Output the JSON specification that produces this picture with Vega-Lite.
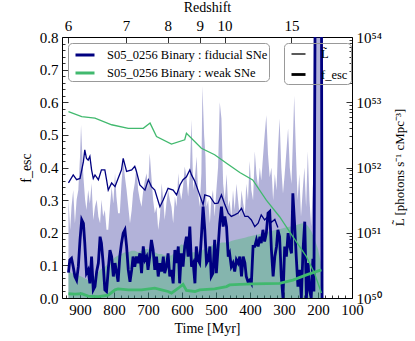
{
"$schema": "https://vega.github.io/schema/vega-lite/v6.json",
"width": 290, "height": 261,
"autosize": {"type": "none"},
"padding": {"left": 62, "top": 37, "right": 63, "bottom": 43},
"background": "white",
"config": {
 "font": "Liberation Serif",
 "view": {"stroke": null},
 "axis": {"domain": true, "domainColor": "black", "domainWidth": 1, "grid": false, "tickColor": "black", "labelColor": "black", "titleColor": "black", "labelFontSize": 15, "titleFontSize": 14, "titleFontWeight": "normal", "labelFont": "Liberation Serif", "titleFont": "Liberation Serif", "tickWidth": 0.8, "labelFlush": false, "labelOverlap": false, "zindex": 1}
},
"datasets": {
 "fill_fid": [
  {"t":934,"f":0.301},{"t":929,"f":0.209},{"t":925,"f":0.28},{"t":920,"f":0.331},{"t":915,"f":0.229},{"t":910,"f":0.301},{"t":905,"f":0.331},{"t":900,"f":0.434},{"t":897,"f":0.53},{"t":893,"f":0.434},{"t":890,"f":0.372},{"t":885,"f":0.301},{"t":881,"f":0.27},{"t":876,"f":0.331},{"t":871,"f":0.29},{"t":866,"f":0.352},{"t":861,"f":0.239},{"t":856,"f":0.28},{"t":851,"f":0.301},{"t":846,"f":0.25},{"t":841,"f":0.229},{"t":837,"f":0.301},{"t":832,"f":0.25},{"t":827,"f":0.27},{"t":822,"f":0.209},{"t":817,"f":0.209},{"t":812,"f":0.28},{"t":807,"f":0.341},{"t":802,"f":0.29},{"t":797,"f":0.382},{"t":793,"f":0.311},{"t":788,"f":0.26},{"t":783,"f":0.26},{"t":778,"f":0.352},{"t":773,"f":0.423},{"t":768,"f":0.372},{"t":763,"f":0.331},{"t":758,"f":0.28},{"t":753,"f":0.229},{"t":748,"f":0.27},{"t":744,"f":0.321},{"t":739,"f":0.352},{"t":734,"f":0.403},{"t":729,"f":0.331},{"t":724,"f":0.301},{"t":719,"f":0.28},{"t":714,"f":0.331},{"t":709,"f":0.362},{"t":704,"f":0.382},{"t":700,"f":0.331},{"t":695,"f":0.444},{"t":690,"f":0.372},{"t":685,"f":0.301},{"t":680,"f":0.26},{"t":675,"f":0.28},{"t":670,"f":0.209},{"t":665,"f":0.25},{"t":660,"f":0.352},{"t":655,"f":0.301},{"t":651,"f":0.239},{"t":646,"f":0.29},{"t":641,"f":0.331},{"t":636,"f":0.301},{"t":631,"f":0.28},{"t":626,"f":0.229},{"t":621,"f":0.311},{"t":616,"f":0.28},{"t":611,"f":0.382},{"t":607,"f":0.331},{"t":602,"f":0.301},{"t":597,"f":0.341},{"t":592,"f":0.403},{"t":587,"f":0.372},{"t":582,"f":0.311},{"t":577,"f":0.382},{"t":572,"f":0.546},{"t":567,"f":0.331},{"t":562,"f":0.372},{"t":557,"f":0.434},{"t":553,"f":0.331},{"t":548,"f":0.28},{"t":543,"f":0.382},{"t":540,"f":0.65},{"t":535,"f":0.5},{"t":531,"f":0.434},{"t":528,"f":0.28},{"t":523,"f":0.301},{"t":518,"f":0.229},{"t":514,"f":0.301},{"t":509,"f":0.331},{"t":504,"f":0.25},{"t":499,"f":0.33},{"t":494,"f":0.4},{"t":489,"f":0.6},{"t":484,"f":0.55},{"t":479,"f":0.35},{"t":474,"f":0.3},{"t":469,"f":0.38},{"t":464,"f":0.28},{"t":460,"f":0.3},{"t":455,"f":0.25},{"t":450,"f":0.33},{"t":445,"f":0.27},{"t":440,"f":0.35},{"t":435,"f":0.3},{"t":430,"f":0.25},{"t":425,"f":0.33},{"t":420,"f":0.29},{"t":415,"f":0.26},{"t":411,"f":0.35},{"t":406,"f":0.3},{"t":401,"f":0.42},{"t":396,"f":0.33},{"t":391,"f":0.3},{"t":386,"f":0.45},{"t":381,"f":0.38},{"t":376,"f":0.34},{"t":371,"f":0.4},{"t":367,"f":0.36},{"t":362,"f":0.43},{"t":357,"f":0.5},{"t":352,"f":0.56},{"t":347,"f":0.44},{"t":342,"f":0.37},{"t":337,"f":0.4},{"t":332,"f":0.3},{"t":327,"f":0.38},{"t":322,"f":0.33},{"t":318,"f":0.45},{"t":313,"f":0.55},{"t":308,"f":0.4},{"t":303,"f":0.32},{"t":298,"f":0.38},{"t":293,"f":0.45},{"t":288,"f":0.52},{"t":283,"f":0.4},{"t":278,"f":0.35},{"t":274,"f":0.48},{"t":270,"f":0.62},{"t":265,"f":0.45},{"t":260,"f":0.3},{"t":255,"f":0.38},{"t":250,"f":0.25},{"t":245,"f":0.33},{"t":240,"f":0.4},{"t":235,"f":0.28},{"t":230,"f":0.45},{"t":225,"f":0.3},{"t":220,"f":0.22},{"t":215,"f":0.35},{"t":211,"f":0.15},{"t":207,"f":1.0},{"t":191,"f":1.0},{"t":189,"f":0.0}
 ],
 "fill_weak": [
  {"t":934,"f":0.09},{"t":925,"f":0.075},{"t":915,"f":0.08},{"t":905,"f":0.07},{"t":895,"f":0.065},{"t":885,"f":0.06},{"t":876,"f":0.055},{"t":866,"f":0.07},{"t":856,"f":0.065},{"t":846,"f":0.08},{"t":837,"f":0.09},{"t":827,"f":0.095},{"t":817,"f":0.105},{"t":807,"f":0.115},{"t":797,"f":0.125},{"t":788,"f":0.13},{"t":778,"f":0.135},{"t":768,"f":0.14},{"t":758,"f":0.14},{"t":748,"f":0.145},{"t":739,"f":0.145},{"t":729,"f":0.14},{"t":719,"f":0.145},{"t":709,"f":0.15},{"t":700,"f":0.15},{"t":690,"f":0.14},{"t":680,"f":0.14},{"t":670,"f":0.135},{"t":660,"f":0.135},{"t":651,"f":0.13},{"t":641,"f":0.13},{"t":631,"f":0.13},{"t":621,"f":0.14},{"t":611,"f":0.155},{"t":602,"f":0.165},{"t":592,"f":0.16},{"t":582,"f":0.15},{"t":572,"f":0.14},{"t":562,"f":0.14},{"t":553,"f":0.14},{"t":543,"f":0.145},{"t":533,"f":0.15},{"t":523,"f":0.155},{"t":514,"f":0.16},{"t":504,"f":0.165},{"t":494,"f":0.165},{"t":484,"f":0.17},{"t":474,"f":0.17},{"t":464,"f":0.17},{"t":455,"f":0.175},{"t":445,"f":0.178},{"t":435,"f":0.18},{"t":425,"f":0.182},{"t":415,"f":0.185},{"t":406,"f":0.188},{"t":396,"f":0.19},{"t":386,"f":0.192},{"t":376,"f":0.195},{"t":367,"f":0.198},{"t":357,"f":0.2},{"t":347,"f":0.203},{"t":337,"f":0.205},{"t":327,"f":0.208},{"t":318,"f":0.21},{"t":308,"f":0.212},{"t":298,"f":0.215},{"t":288,"f":0.218},{"t":278,"f":0.22},{"t":268,"f":0.222},{"t":259,"f":0.225},{"t":249,"f":0.228},{"t":239,"f":0.23},{"t":229,"f":0.22},{"t":220,"f":0.205},{"t":210,"f":0.18},{"t":200,"f":0.15},{"t":192,"f":0.11},{"t":187,"f":0.05},{"t":185,"f":0.0}
 ],
 "fesc": [
  {"run":"fiducial","qty":"fesc","t":934,"f":0.078},{"run":"fiducial","qty":"fesc","t":930,"f":0.117},{"run":"fiducial","qty":"fesc","t":925,"f":0.122},{"run":"fiducial","qty":"fesc","t":920,"f":0.096},{"run":"fiducial","qty":"fesc","t":915,"f":0.066},{"run":"fiducial","qty":"fesc","t":910,"f":0.055},{"run":"fiducial","qty":"fesc","t":905,"f":0.096},{"run":"fiducial","qty":"fesc","t":900,"f":0.178},{"run":"fiducial","qty":"fesc","t":895,"f":0.24},{"run":"fiducial","qty":"fesc","t":890,"f":0.229},{"run":"fiducial","qty":"fesc","t":886,"f":0.168},{"run":"fiducial","qty":"fesc","t":881,"f":0.076},{"run":"fiducial","qty":"fesc","t":876,"f":0.086},{"run":"fiducial","qty":"fesc","t":871,"f":0.045},{"run":"fiducial","qty":"fesc","t":866,"f":0.127},{"run":"fiducial","qty":"fesc","t":861,"f":0.025},{"run":"fiducial","qty":"fesc","t":856,"f":0.035},{"run":"fiducial","qty":"fesc","t":851,"f":0.081},{"run":"fiducial","qty":"fesc","t":846,"f":0.107},{"run":"fiducial","qty":"fesc","t":841,"f":0.188},{"run":"fiducial","qty":"fesc","t":837,"f":0.168},{"run":"fiducial","qty":"fesc","t":832,"f":0.107},{"run":"fiducial","qty":"fesc","t":827,"f":0.025},{"run":"fiducial","qty":"fesc","t":822,"f":0.02},{"run":"fiducial","qty":"fesc","t":817,"f":0.086},{"run":"fiducial","qty":"fesc","t":812,"f":0.147},{"run":"fiducial","qty":"fesc","t":807,"f":0.127},{"run":"fiducial","qty":"fesc","t":802,"f":0.066},{"run":"fiducial","qty":"fesc","t":797,"f":0.107},{"run":"fiducial","qty":"fesc","t":793,"f":0.081},{"run":"fiducial","qty":"fesc","t":788,"f":0.05},{"run":"fiducial","qty":"fesc","t":783,"f":0.127},{"run":"fiducial","qty":"fesc","t":778,"f":0.168},{"run":"fiducial","qty":"fesc","t":773,"f":0.199},{"run":"fiducial","qty":"fesc","t":768,"f":0.209},{"run":"fiducial","qty":"fesc","t":763,"f":0.158},{"run":"fiducial","qty":"fesc","t":758,"f":0.086},{"run":"fiducial","qty":"fesc","t":753,"f":0.05},{"run":"fiducial","qty":"fesc","t":748,"f":0.086},{"run":"fiducial","qty":"fesc","t":744,"f":0.127},{"run":"fiducial","qty":"fesc","t":739,"f":0.096},{"run":"fiducial","qty":"fesc","t":734,"f":0.127},{"run":"fiducial","qty":"fesc","t":729,"f":0.107},{"run":"fiducial","qty":"fesc","t":724,"f":0.137},{"run":"fiducial","qty":"fesc","t":719,"f":0.076},{"run":"fiducial","qty":"fesc","t":714,"f":0.158},{"run":"fiducial","qty":"fesc","t":709,"f":0.117},{"run":"fiducial","qty":"fesc","t":704,"f":0.127},{"run":"fiducial","qty":"fesc","t":700,"f":0.086},{"run":"fiducial","qty":"fesc","t":695,"f":0.127},{"run":"fiducial","qty":"fesc","t":690,"f":0.178},{"run":"fiducial","qty":"fesc","t":685,"f":0.147},{"run":"fiducial","qty":"fesc","t":680,"f":0.086},{"run":"fiducial","qty":"fesc","t":675,"f":0.127},{"run":"fiducial","qty":"fesc","t":670,"f":0.066},{"run":"fiducial","qty":"fesc","t":665,"f":0.107},{"run":"fiducial","qty":"fesc","t":660,"f":0.081},{"run":"fiducial","qty":"fesc","t":655,"f":0.127},{"run":"fiducial","qty":"fesc","t":651,"f":0.076},{"run":"fiducial","qty":"fesc","t":646,"f":0.096},{"run":"fiducial","qty":"fesc","t":641,"f":0.137},{"run":"fiducial","qty":"fesc","t":636,"f":0.066},{"run":"fiducial","qty":"fesc","t":631,"f":0.086},{"run":"fiducial","qty":"fesc","t":626,"f":0.045},{"run":"fiducial","qty":"fesc","t":621,"f":0.147},{"run":"fiducial","qty":"fesc","t":616,"f":0.107},{"run":"fiducial","qty":"fesc","t":611,"f":0.158},{"run":"fiducial","qty":"fesc","t":607,"f":0.045},{"run":"fiducial","qty":"fesc","t":602,"f":0.137},{"run":"fiducial","qty":"fesc","t":597,"f":0.096},{"run":"fiducial","qty":"fesc","t":592,"f":0.158},{"run":"fiducial","qty":"fesc","t":587,"f":0.188},{"run":"fiducial","qty":"fesc","t":582,"f":0.127},{"run":"fiducial","qty":"fesc","t":577,"f":0.219},{"run":"fiducial","qty":"fesc","t":572,"f":0.096},{"run":"fiducial","qty":"fesc","t":567,"f":0.107},{"run":"fiducial","qty":"fesc","t":562,"f":0.045},{"run":"fiducial","qty":"fesc","t":558,"f":0.158},{"run":"fiducial","qty":"fesc","t":553,"f":0.117},{"run":"fiducial","qty":"fesc","t":548,"f":0.107},{"run":"fiducial","qty":"fesc","t":543,"f":0.188},{"run":"fiducial","qty":"fesc","t":538,"f":0.28},{"run":"fiducial","qty":"fesc","t":533,"f":0.209},{"run":"fiducial","qty":"fesc","t":528,"f":0.107},{"run":"fiducial","qty":"fesc","t":523,"f":0.117},{"run":"fiducial","qty":"fesc","t":518,"f":0.158},{"run":"fiducial","qty":"fesc","t":514,"f":0.066},{"run":"fiducial","qty":"fesc","t":509,"f":0.076},{"run":"fiducial","qty":"fesc","t":504,"f":0.178},{"run":"fiducial","qty":"fesc","t":499,"f":0.076},{"run":"fiducial","qty":"fesc","t":494,"f":0.152},{"run":"fiducial","qty":"fesc","t":489,"f":0.229},{"run":"fiducial","qty":"fesc","t":484,"f":0.28},{"run":"fiducial","qty":"fesc","t":479,"f":0.219},{"run":"fiducial","qty":"fesc","t":474,"f":0.25},{"run":"fiducial","qty":"fesc","t":469,"f":0.219},{"run":"fiducial","qty":"fesc","t":464,"f":0.127},{"run":"fiducial","qty":"fesc","t":460,"f":0.137},{"run":"fiducial","qty":"fesc","t":455,"f":0.096},{"run":"fiducial","qty":"fesc","t":450,"f":0.107},{"run":"fiducial","qty":"fesc","t":445,"f":0.081},{"run":"fiducial","qty":"fesc","t":440,"f":0.117},{"run":"fiducial","qty":"fesc","t":435,"f":0.107},{"run":"fiducial","qty":"fesc","t":430,"f":0.127},{"run":"fiducial","qty":"fesc","t":425,"f":0.066},{"run":"fiducial","qty":"fesc","t":420,"f":0.127},{"run":"fiducial","qty":"fesc","t":415,"f":0.107},{"run":"fiducial","qty":"fesc","t":411,"f":0.066},{"run":"fiducial","qty":"fesc","t":406,"f":0.05},{"run":"fiducial","qty":"fesc","t":401,"f":0.055},{"run":"fiducial","qty":"fesc","t":396,"f":0.045},{"run":"fiducial","qty":"fesc","t":391,"f":0.158},{"run":"fiducial","qty":"fesc","t":386,"f":0.158},{"run":"fiducial","qty":"fesc","t":381,"f":0.178},{"run":"fiducial","qty":"fesc","t":376,"f":0.158},{"run":"fiducial","qty":"fesc","t":371,"f":0.188},{"run":"fiducial","qty":"fesc","t":367,"f":0.168},{"run":"fiducial","qty":"fesc","t":362,"f":0.209},{"run":"fiducial","qty":"fesc","t":357,"f":0.173},{"run":"fiducial","qty":"fesc","t":352,"f":0.199},{"run":"fiducial","qty":"fesc","t":347,"f":0.26},{"run":"fiducial","qty":"fesc","t":342,"f":0.265},{"run":"fiducial","qty":"fesc","t":337,"f":0.147},{"run":"fiducial","qty":"fesc","t":332,"f":0.066},{"run":"fiducial","qty":"fesc","t":327,"f":0.127},{"run":"fiducial","qty":"fesc","t":322,"f":0.158},{"run":"fiducial","qty":"fesc","t":318,"f":0.209},{"run":"fiducial","qty":"fesc","t":313,"f":0.188},{"run":"fiducial","qty":"fesc","t":308,"f":0.066},{"run":"fiducial","qty":"fesc","t":303,"f":0.0},{"run":"fiducial","qty":"fesc","t":298,"f":0.158},{"run":"fiducial","qty":"fesc","t":293,"f":0.127},{"run":"fiducial","qty":"fesc","t":288,"f":0.199},{"run":"fiducial","qty":"fesc","t":283,"f":0.158},{"run":"fiducial","qty":"fesc","t":278,"f":0.137},{"run":"fiducial","qty":"fesc","t":274,"f":0.321},{"run":"fiducial","qty":"fesc","t":269,"f":0.229},{"run":"fiducial","qty":"fesc","t":264,"f":0.127},{"run":"fiducial","qty":"fesc","t":259,"f":0.035},{"run":"fiducial","qty":"fesc","t":254,"f":0.086},{"run":"fiducial","qty":"fesc","t":249,"f":0.0},{"run":"fiducial","qty":"fesc","t":244,"f":0.147},{"run":"fiducial","qty":"fesc","t":239,"f":0.234},{"run":"fiducial","qty":"fesc","t":234,"f":0.0},{"run":"fiducial","qty":"fesc","t":229,"f":0.107},{"run":"fiducial","qty":"fesc","t":225,"f":0.025},{"run":"fiducial","qty":"fesc","t":220,"f":0.0},{"run":"fiducial","qty":"fesc","t":215,"f":0.12},{"run":"fiducial","qty":"fesc","t":212,"f":0.02},{"run":"fiducial","qty":"fesc","t":208,"f":1.0},{"run":"fiducial","qty":"fesc","t":190,"f":1.0},{"run":"fiducial","qty":"fesc","t":188,"f":0.0},
  {"run":"weak","qty":"fesc","t":934,"f":0.013},{"run":"weak","qty":"fesc","t":915,"f":0.012},{"run":"weak","qty":"fesc","t":895,"f":0.013},{"run":"weak","qty":"fesc","t":876,"f":0.006},{"run":"weak","qty":"fesc","t":846,"f":0.004},{"run":"weak","qty":"fesc","t":817,"f":0.009},{"run":"weak","qty":"fesc","t":797,"f":0.025},{"run":"weak","qty":"fesc","t":788,"f":0.028},{"run":"weak","qty":"fesc","t":758,"f":0.025},{"run":"weak","qty":"fesc","t":719,"f":0.025},{"run":"weak","qty":"fesc","t":680,"f":0.03},{"run":"weak","qty":"fesc","t":660,"f":0.025},{"run":"weak","qty":"fesc","t":641,"f":0.02},{"run":"weak","qty":"fesc","t":631,"f":0.015},{"run":"weak","qty":"fesc","t":611,"f":0.03},{"run":"weak","qty":"fesc","t":597,"f":0.042},{"run":"weak","qty":"fesc","t":587,"f":0.023},{"run":"weak","qty":"fesc","t":562,"f":0.02},{"run":"weak","qty":"fesc","t":548,"f":0.025},{"run":"weak","qty":"fesc","t":504,"f":0.028},{"run":"weak","qty":"fesc","t":469,"f":0.035},{"run":"weak","qty":"fesc","t":460,"f":0.04},{"run":"weak","qty":"fesc","t":430,"f":0.042},{"run":"weak","qty":"fesc","t":391,"f":0.043},{"run":"weak","qty":"fesc","t":313,"f":0.045},{"run":"weak","qty":"fesc","t":274,"f":0.055},{"run":"weak","qty":"fesc","t":234,"f":0.071},{"run":"weak","qty":"fesc","t":190,"f":0.086}
 ],
 "lum": [
  {"run":"fiducial","qty":"L","t":934,"L":5.8e51},{"run":"fiducial","qty":"L","t":920,"L":7.7e51},{"run":"fiducial","qty":"L","t":910,"L":6.5e51},{"run":"fiducial","qty":"L","t":900,"L":6.8e51},{"run":"fiducial","qty":"L","t":890,"L":1.23e52},{"run":"fiducial","qty":"L","t":886,"L":1.86e52},{"run":"fiducial","qty":"L","t":881,"L":1.38e52},{"run":"fiducial","qty":"L","t":876,"L":1.3e52},{"run":"fiducial","qty":"L","t":871,"L":1.48e52},{"run":"fiducial","qty":"L","t":866,"L":9.2e51},{"run":"fiducial","qty":"L","t":861,"L":6.8e51},{"run":"fiducial","qty":"L","t":856,"L":7.7e51},{"run":"fiducial","qty":"L","t":846,"L":6.5e51},{"run":"fiducial","qty":"L","t":837,"L":9.2e51},{"run":"fiducial","qty":"L","t":827,"L":9.2e51},{"run":"fiducial","qty":"L","t":822,"L":6.5e51},{"run":"fiducial","qty":"L","t":817,"L":4.5e51},{"run":"fiducial","qty":"L","t":807,"L":5.8e51},{"run":"fiducial","qty":"L","t":797,"L":5.1e51},{"run":"fiducial","qty":"L","t":788,"L":6.8e51},{"run":"fiducial","qty":"L","t":778,"L":9.2e51},{"run":"fiducial","qty":"L","t":773,"L":1.38e52},{"run":"fiducial","qty":"L","t":763,"L":8.7e51},{"run":"fiducial","qty":"L","t":748,"L":9.2e51},{"run":"fiducial","qty":"L","t":739,"L":1.04e52},{"run":"fiducial","qty":"L","t":734,"L":8.7e51},{"run":"fiducial","qty":"L","t":724,"L":5.4e51},{"run":"fiducial","qty":"L","t":709,"L":4.5e51},{"run":"fiducial","qty":"L","t":699,"L":6.5e51},{"run":"fiducial","qty":"L","t":690,"L":5.1e51},{"run":"fiducial","qty":"L","t":680,"L":4.5e51},{"run":"fiducial","qty":"L","t":665,"L":2.5e51},{"run":"fiducial","qty":"L","t":655,"L":3.2e51},{"run":"fiducial","qty":"L","t":641,"L":4.8e51},{"run":"fiducial","qty":"L","t":626,"L":4.5e51},{"run":"fiducial","qty":"L","t":616,"L":3.8e51},{"run":"fiducial","qty":"L","t":606,"L":5.4e51},{"run":"fiducial","qty":"L","t":597,"L":6.5e51},{"run":"fiducial","qty":"L","t":587,"L":7.2e51},{"run":"fiducial","qty":"L","t":577,"L":9.2e51},{"run":"fiducial","qty":"L","t":572,"L":7.7e51},{"run":"fiducial","qty":"L","t":562,"L":6.1e51},{"run":"fiducial","qty":"L","t":553,"L":4.5e51},{"run":"fiducial","qty":"L","t":538,"L":2.7e51},{"run":"fiducial","qty":"L","t":533,"L":3.8e51},{"run":"fiducial","qty":"L","t":518,"L":3.6e51},{"run":"fiducial","qty":"L","t":504,"L":2.8e51},{"run":"fiducial","qty":"L","t":494,"L":2.85e51},{"run":"fiducial","qty":"L","t":484,"L":3.8e51},{"run":"fiducial","qty":"L","t":474,"L":2.7e51},{"run":"fiducial","qty":"L","t":464,"L":2.0e51},{"run":"fiducial","qty":"L","t":455,"L":1.78e51},{"run":"fiducial","qty":"L","t":445,"L":1.88e51},{"run":"fiducial","qty":"L","t":435,"L":2.0e51},{"run":"fiducial","qty":"L","t":425,"L":2.37e51},{"run":"fiducial","qty":"L","t":415,"L":1.78e51},{"run":"fiducial","qty":"L","t":406,"L":1.78e51},{"run":"fiducial","qty":"L","t":396,"L":1.57e51},{"run":"fiducial","qty":"L","t":386,"L":1.24e51},{"run":"fiducial","qty":"L","t":376,"L":1.4e51},{"run":"fiducial","qty":"L","t":367,"L":1.88e51},{"run":"fiducial","qty":"L","t":357,"L":1.57e51},{"run":"fiducial","qty":"L","t":347,"L":1.78e51},{"run":"fiducial","qty":"L","t":337,"L":1.45e51},{"run":"fiducial","qty":"L","t":327,"L":1.6e51},{"run":"fiducial","qty":"L","t":318,"L":1.2e51},
  {"run":"weak","qty":"L","t":934,"L":7.16e52},{"run":"weak","qty":"L","t":895,"L":6.03e52},{"run":"weak","qty":"L","t":856,"L":5.69e52},{"run":"weak","qty":"L","t":807,"L":4.52e52},{"run":"weak","qty":"L","t":758,"L":3.98e52},{"run":"weak","qty":"L","t":714,"L":3.98e52},{"run":"weak","qty":"L","t":694,"L":4.79e52},{"run":"weak","qty":"L","t":675,"L":2.99e52},{"run":"weak","qty":"L","t":631,"L":2.29e52},{"run":"weak","qty":"L","t":592,"L":2.66e52},{"run":"weak","qty":"L","t":587,"L":3.35e52},{"run":"weak","qty":"L","t":543,"L":1.97e52},{"run":"weak","qty":"L","t":504,"L":1.57e52},{"run":"weak","qty":"L","t":469,"L":1.16e52},{"run":"weak","qty":"L","t":430,"L":8.4e51},{"run":"weak","qty":"L","t":392,"L":6.46e51},{"run":"weak","qty":"L","t":352,"L":3.16e51},{"run":"weak","qty":"L","t":313,"L":1.76e51},{"run":"weak","qty":"L","t":274,"L":8.7e50},{"run":"weak","qty":"L","t":234,"L":4.3e50},{"run":"weak","qty":"L","t":210,"L":2.37e50},{"run":"weak","qty":"L","t":190,"L":1.19e50}
 ]
},
"layer": [
 {"layer": [
  {"data": {"name": "fill_fid"}, "mark": {"type": "area", "color": "#000080", "opacity": 0.3, "clip": true},
   "encoding": {
    "x": {"field": "t", "type": "quantitative", "scale": {"domain": [100, 953], "reverse": true, "nice": false, "zero": false}, "axis": null},
    "y": {"field": "f", "type": "quantitative", "scale": {"domain": [0, 0.8], "nice": false}, "axis": null}
   }},
  {"data": {"name": "fill_weak"}, "mark": {"type": "area", "color": "#41b96e", "opacity": 0.4, "clip": true},
   "encoding": {"x": {"field": "t", "type": "quantitative", "axis": null}, "y": {"field": "f", "type": "quantitative", "axis": null}}},
  {"data": {"name": "fesc"}, "mark": {"type": "line", "clip": true},
   "encoding": {
    "x": {"field": "t", "type": "quantitative", "axis": null},
    "y": {"field": "f", "type": "quantitative", "axis": null},
    "color": {"field": "run", "type": "nominal", "scale": {"domain": ["fiducial", "weak"], "range": ["#000080", "#41b96e"]},
     "legend": {"title": null, "orient": "none", "legendX": 6, "legendY": 6, "symbolType": "stroke", "symbolStrokeWidth": 3, "symbolSize": 361, "symbolOffset": 5, "labelOffset": 11, "labelFontSize": 12.5, "labelLimit": 300, "labelFont": "Liberation Serif", "labelColor": "black", "strokeColor": "#999999", "padding": 1, "cornerRadius": 4, "rowPadding": 0, "labelExpr": "'S05_0256 Binary : ' + datum.label + ' SNe'"}},
    "strokeWidth": {"field": "qty", "type": "ordinal", "scale": {"domain": ["L", "fesc"], "range": [1.3, 2.8]},
     "legend": {"title": null, "orient": "none", "legendX": 222, "legendY": 6, "symbolType": "stroke", "symbolStrokeColor": "black", "symbolSize": 196, "symbolOffset": 3, "labelOffset": 14, "labelFontSize": 12.5, "labelLimit": 100, "labelFont": "Liberation Serif", "labelColor": "black", "strokeColor": "#999999", "padding": 3, "cornerRadius": 4, "rowPadding": 5, "labelExpr": "datum.label == 'L' ? 'L̃' : 'f_esc'"}}
   }}
 ]},
 {"layer": [
  {"data": {"name": "lum"}, "mark": {"type": "line", "clip": true},
   "encoding": {
    "x": {"field": "t", "type": "quantitative", "scale": {"domain": [100, 953], "reverse": true, "nice": false, "zero": false},
     "axis": {"orient": "top", "title": "Redshift", "labelOverlap": false, "values": [935, 765, 642, 548, 475, 278],
      "labelExpr": "datum.value == 935 ? '6' : datum.value == 765 ? '7' : datum.value == 642 ? '8' : datum.value == 548 ? '9' : datum.value == 475 ? '10' : '15'",
      "tickSize": -6, "labelPadding": 10, "titlePadding": 4}},
    "y": {"field": "L", "type": "quantitative", "scale": {"type": "log", "domain": [1e50, 1e54], "nice": false},
     "axis": {"orient": "right", "title": "L̃ [photons s⁻¹ cMpc⁻³]", "titleAngle": 270, "titleFontSize": 13, "titleX": 47, "titleY": 130, "titleAlign": "center", "titleBaseline": "middle", "labelOverlap": false,
      "values": [1e50, 1e51, 1e52, 1e53, 1e54],
      "labelExpr": "'10' + ['⁵⁰','⁵¹','⁵²','⁵³','⁵⁴'][round(log(datum.value)/LN10) - 50]",
      "tickSize": -6, "labelPadding": 10}},
    "color": {"field": "run", "type": "nominal", "scale": {"domain": ["fiducial", "weak"], "range": ["#000080", "#41b96e"]},
     "legend": {"title": null, "orient": "none", "legendX": 6, "legendY": 6, "symbolType": "stroke", "symbolStrokeWidth": 3, "symbolSize": 361, "symbolOffset": 5, "labelOffset": 11, "labelFontSize": 12.5, "labelLimit": 300, "labelFont": "Liberation Serif", "labelColor": "black", "strokeColor": "#999999", "padding": 1, "cornerRadius": 4, "rowPadding": 0, "labelExpr": "'S05_0256 Binary : ' + datum.label + ' SNe'"}},
    "strokeWidth": {"field": "qty", "type": "ordinal", "scale": {"domain": ["L", "fesc"], "range": [1.3, 2.8]},
     "legend": {"title": null, "orient": "none", "legendX": 222, "legendY": 6, "symbolType": "stroke", "symbolStrokeColor": "black", "symbolSize": 196, "symbolOffset": 3, "labelOffset": 14, "labelFontSize": 12.5, "labelLimit": 100, "labelFont": "Liberation Serif", "labelColor": "black", "strokeColor": "#999999", "padding": 3, "cornerRadius": 4, "rowPadding": 5, "labelExpr": "datum.label == 'L' ? 'L̃' : 'f_esc'"}}
   }}
 ]},
 {"data": {"name": "fill_weak"}, "mark": {"type": "point", "opacity": 0},
  "encoding": {
   "x": {"field": "t", "type": "quantitative", "scale": {"domain": [100, 953], "reverse": true, "nice": false, "zero": false},
    "axis": {"orient": "bottom", "title": "Time [Myr]", "labelOverlap": false, "values": [900,800,700,600,500,400,300,200,100], "format": "d", "tickSize": -6, "labelPadding": 10, "titlePadding": 4}},
   "y": {"field": "f", "type": "quantitative", "scale": {"domain": [0, 0.8], "nice": false},
    "axis": {"orient": "left", "title": "f_esc", "labelOverlap": false, "values": [0,0.1,0.2,0.3,0.4,0.5,0.6,0.7,0.8], "format": ".1f", "tickSize": -6, "labelPadding": 10, "titlePadding": 6}}
  }},
 {"data": {"name": "fill_weak"}, "mark": {"type": "point", "opacity": 0},
  "encoding": {
   "x": {"field": "t", "type": "quantitative", "scale": {"domain": [100, 953], "reverse": true, "nice": false, "zero": false},
    "axis": {"orient": "bottom", "title": null, "labels": false, "domain": false, "tickSize": -3, "values": [940,920,880,860,840,820,780,760,740,720,680,660,640,620,580,560,540,520,480,460,440,420,380,360,340,320,280,260,240,220,180,160,140,120]}},
   "y": {"field": "f", "type": "quantitative", "scale": {"domain": [0, 0.8], "nice": false},
    "axis": {"orient": "left", "title": null, "labels": false, "domain": false, "tickSize": -3, "values": [0.02,0.04,0.06,0.08,0.12,0.14,0.16,0.18,0.22,0.24,0.26,0.28,0.32,0.34,0.36,0.38,0.42,0.44,0.46,0.48,0.52,0.54,0.56,0.58,0.62,0.64,0.66,0.68,0.72,0.74,0.76,0.78]}}
  }},
 {"data": {"name": "lum"}, "mark": {"type": "point", "opacity": 0},
  "encoding": {
   "x": {"field": "t", "type": "quantitative", "scale": {"domain": [100, 953], "reverse": true, "nice": false, "zero": false}, "axis": null},
   "y": {"field": "L", "type": "quantitative", "scale": {"type": "log", "domain": [1e50, 1e54], "nice": false},
    "axis": {"orient": "right", "title": null, "labels": false, "domain": false, "tickSize": -3, "values": [2e50,3e50,4e50,5e50,6e50,7e50,8e50,9e50,2e51,3e51,4e51,5e51,6e51,7e51,8e51,9e51,2e52,3e52,4e52,5e52,6e52,7e52,8e52,9e52,2e53,3e53,4e53,5e53,6e53,7e53,8e53,9e53]}}
  }}
],
"resolve": {"scale": {"y": "independent"}, "axis": {"x": "independent", "y": "independent"}}
}
